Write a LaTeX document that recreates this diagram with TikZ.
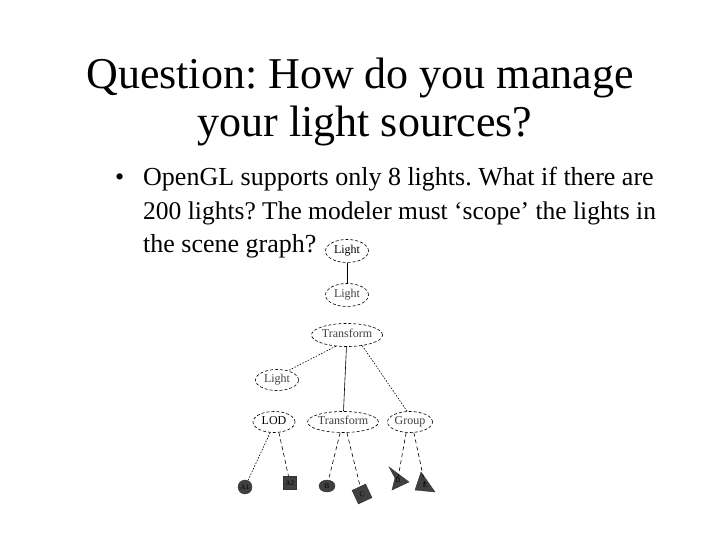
\documentclass[tikz,border=0pt]{standalone}
\usepackage{fontspec}
\setmainfont{Liberation Serif}
\usetikzlibrary{positioning,shapes.geometric}

\begin{document}
\frenchspacing
\begin{tikzpicture}[x=1pt, y=-1pt,
    scn/.style={draw, dash pattern=on 3pt off 2pt, ellipse, inner sep=0pt, minimum height=23pt,
                text height=1.6ex, text depth=.3ex,
                line width=0.6pt, font=\fontsize{12}{13}\selectfont, text=black!75},
    leaf/.style={draw=black!80, fill=black!75, inner sep=0pt,
                 font=\fontsize{7}{8}\selectfont, text=black},
    link/.style={dash pattern=on 4pt off 3pt, line width=0.6pt},
    dots/.style={dash pattern=on 1.5pt off 1.5pt, line width=0.6pt},
]
\useasboundingbox (0,0) rectangle (720,540);

% title and bullet text
\node[anchor=base, font=\fontsize{44}{49}\selectfont] (title1) at (360,89)
    {Question: How do you manage};
\node[anchor=base, font=\fontsize{44}{49}\selectfont] (title2) at (365,137)
    {your light sources?};
\node[anchor=base west, font=\fontsize{26}{33}\selectfont, inner sep=0pt] (bullet) at (115,186) {\textbullet};
\node[anchor=base west, font=\fontsize{26}{33}\selectfont, inner sep=0pt] (line1) at (143,186)
    {OpenGL supports only 8 lights. What if there are};
\node[anchor=base west, font=\fontsize{25.5}{33}\selectfont, inner sep=0pt] (line2) at (143,219)
    {200 lights? The modeler must `scope' the lights in};
\node[anchor=base west, font=\fontsize{26}{33}\selectfont, inner sep=0pt] (line3) at (143,252)
    {the scene graph?};

% scene graph
\node[scn, minimum width=43pt, text=black] (light1) at (347,251) {Light};
\node[scn, minimum width=43pt] (light2) at (347,295) {Light};
\node[scn, minimum width=70pt] (xform1) at (347,335) {Transform};
\node[scn, minimum width=43pt, minimum height=21pt] (light3) at (277,380) {Light};
\node[scn, minimum width=42pt, minimum height=21pt, text=black] (lod) at (274,422) {LOD};
\node[scn, minimum width=69pt, minimum height=21pt] (xform2) at (343,422) {Transform};
\node[scn, minimum width=45pt, minimum height=21pt] (group) at (410,422) {Group};

% leaves
\node[leaf, circle, minimum size=14pt] (a1) at (245,487) {A1};
\node[leaf, rectangle, minimum size=13pt] (a2) at (290,483) {A2};
\node[leaf, ellipse, minimum width=16pt, minimum height=12pt] (b) at (327,486) {B};
\node[leaf, rectangle, minimum size=15pt, rotate=25] (c) at (362,494) {C};
\coordinate (d) at (398,478);
\fill[black!75, draw=black!80] (389,467) -- (409,482) -- (392,490) -- (395,478) -- cycle;
\node[font=\fontsize{7}{8}\selectfont] at (398,480) {D};
\coordinate (e) at (425,485);
\fill[black!75, draw=black!80] (421,472) -- (435,492) -- (415,490) -- cycle;
\node[font=\fontsize{7}{8}\selectfont] at (425,485) {E};

% edges
\draw[line width=0.6pt] (light1) -- (light2);
\draw[dots] (xform1.225) -- (light3.40);
\draw[line width=0.6pt] (xform1) -- (xform2);
\draw[dots] (xform1.-35) -- (group.105);
\draw[dots] (lod.250) -- (a1);
\draw[link] (lod.295) -- (a2);
\draw[link] (xform2.255) -- (b);
\draw[link] (xform2.290) -- (c);
\draw[link] (group.250) -- (d);
\draw[link] (group.290) -- (e);
\end{tikzpicture}
\end{document}
